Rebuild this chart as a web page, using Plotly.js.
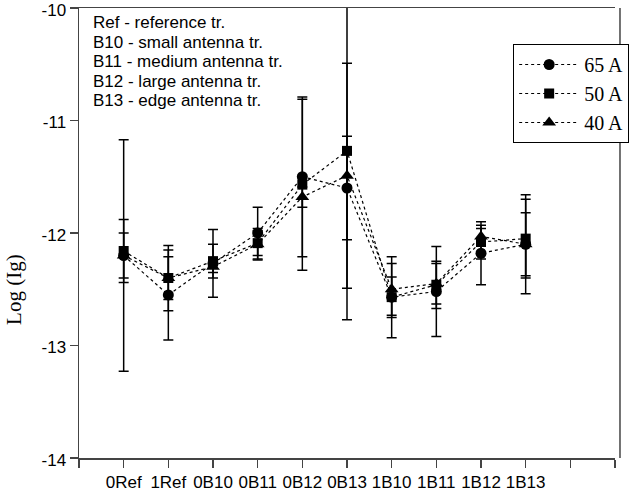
<!DOCTYPE html>
<html>
<head>
<meta charset="utf-8">
<script src="https://cdn.plot.ly/plotly-3.0.1.min.js"></script>
<style>html,body{margin:0;padding:0;background:#fff;}#chart{width:641px;height:497px;}</style>
</head>
<body>
<div id="chart"></div>
<script>
const categories = ['0Ref','1Ref','0B10','0B11','0B12','0B13','1B10','1B11','1B12','1B13'];
const seriesNames = ['65 A', '50 A', '40 A'];
const values65 = [-12.20, -12.55, -12.27, -12.00, -11.50, -11.60, -12.57, -12.52, -12.18, -12.10];
const errors65 = [1.03, 0.40, 0.30, 0.23, 0.71, 0.46, 0.36, 0.40, 0.28, 0.44];
const values50 = [-12.16, -12.40, -12.25, -12.09, -11.57, -11.27, -12.57, -12.46, -12.08, -12.05];
const errors50 = [0.28, 0.29, 0.15, 0.11, 0.76, 1.50, 0.18, 0.21, 0.15, 0.35];
const values40 = [-12.20, -12.40, -12.30, -12.10, -11.68, -11.49, -12.50, -12.45, -12.03, -12.10];
const errors40 = [0.20, 0.19, 0.05, 0.14, 0.09, 1.00, 0.23, 0.18, 0.07, 0.28];
const yTickVals = [-14, -13, -12, -11, -10];
const yTickText = ['-14', '-13', '-12', '-11', '-10'];
const noteLines = ['Ref - reference tr.', 'B10 - small antenna tr.', 'B11 - medium antenna tr.', 'B12 - large antenna tr.', 'B13 - edge antenna tr.'];
const yTitle = 'Log (Ig)';

const xIdx = categories.map((c, i) => i);
const tickVals = [-1].concat(xIdx, [categories.length, categories.length + 1]);
const tickText = [''].concat(categories, ['', '']);

function mk(name, ys, errs, symbol, size) {
  return {
    type: 'scatter', mode: 'lines+markers', name: name,
    x: xIdx, y: ys,
    line: {color: '#000', width: 1.2, dash: 'dot'},
    marker: {color: '#000', symbol: symbol, size: size},
    error_y: {type: 'data', array: errs, visible: true, color: '#000', thickness: 1.5, width: 5}
  };
}
const data = [
  mk(seriesNames[0], values65, errors65, 'circle', 11),
  mk(seriesNames[1], values50, errors50, 'square', 10),
  mk(seriesNames[2], values40, errors40, 'triangle-up', 12)
];

const annotations = noteLines.map((t, i) => ({
  xref: 'paper', yref: 'paper', x: 0.022, y: 1 - (14.5 + i * 19.6) / 450,
  xanchor: 'left', yanchor: 'middle', showarrow: false, align: 'left',
  text: t, font: {family: 'Liberation Sans, Arial, sans-serif', size: 17, color: '#000'}
}));
annotations.push({
  xref: 'paper', yref: 'y', x: -0.12, y: -12.5, xanchor: 'center', yanchor: 'middle',
  showarrow: false, textangle: -90, text: yTitle,
  font: {family: 'Liberation Serif, Times New Roman, serif', size: 21, color: '#000'}
});

const tickFont = {family: 'Liberation Sans, Arial, sans-serif', size: 17, color: '#000'};
const layout = {
  width: 641, height: 497,
  margin: {l: 79, r: 26, t: 8, b: 39},
  paper_bgcolor: '#fff', plot_bgcolor: '#fff',
  showlegend: true,
  legend: {
    x: 0.81, y: 0.92, xanchor: 'left', yanchor: 'top',
    bordercolor: '#000', borderwidth: 1, bgcolor: '#fff',
    font: {family: 'Liberation Serif, Times New Roman, serif', size: 20, color: '#000'},
    itemwidth: 60
  },
  xaxis: {
    range: [-1, categories.length + 1], tickmode: 'array', tickvals: tickVals, ticktext: tickText,
    showgrid: false, zeroline: false, showline: true, mirror: true, linecolor: '#444', linewidth: 1.5,
    ticks: 'outside', ticklen: 8, tickcolor: '#444', tickwidth: 1.2,
    tickfont: tickFont, ticklabeloverflow: 'allow'
  },
  yaxis: {
    range: [-14, -10], tickmode: 'array', tickvals: yTickVals, ticktext: yTickText,
    showgrid: false, zeroline: false, showline: true, linecolor: '#444', linewidth: 1.5,
    ticks: 'outside', ticklen: 8, tickcolor: '#444', tickwidth: 1.2,
    tickfont: tickFont, ticklabeloverflow: 'allow', ticklabelshift: 2
  },
  shapes: [{type: 'line', xref: 'paper', yref: 'paper', x0: 1.0093, x1: 1.0093, y0: 0, y1: 1,
            line: {color: '#444', width: 1.5}}],
  annotations: annotations
};
Plotly.newPlot('chart', data, layout, {displayModeBar: false, staticPlot: true});
</script>
</body>
</html>
